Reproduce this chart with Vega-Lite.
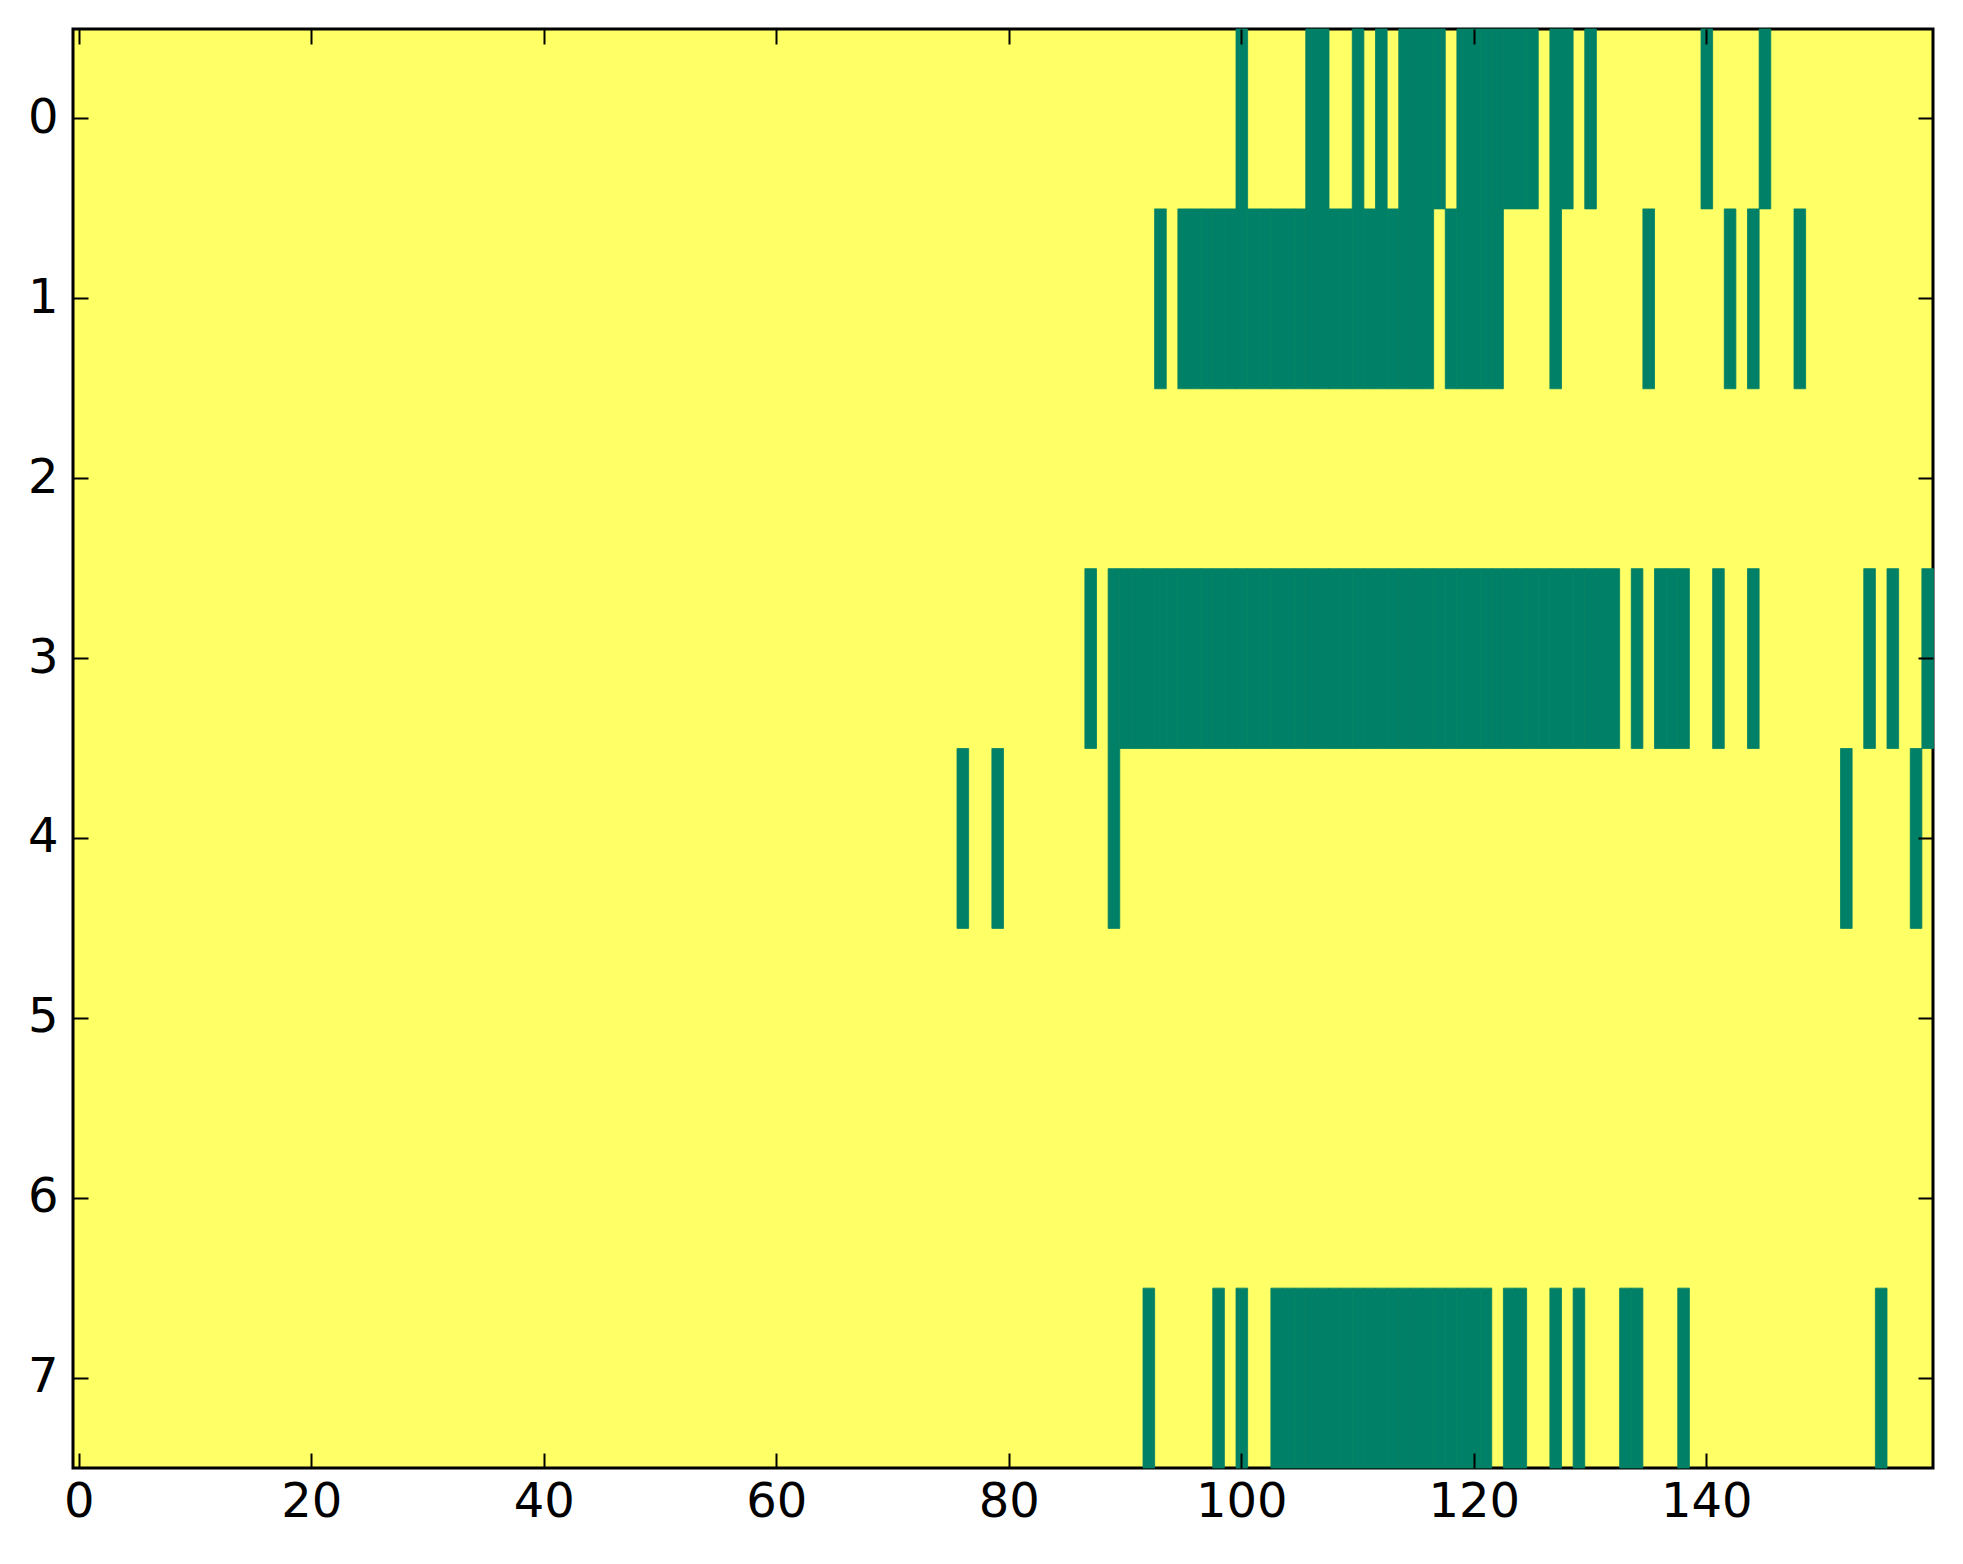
{
  "$schema": "https://vega.github.io/schema/vega-lite/v6.json",
  "description": "Binary matrix shown as an image (8 rows x 160 columns)",
  "width": 1860,
  "height": 1439,
  "autosize": {"type": "none"},
  "padding": {"left": 73, "top": 29, "right": 30, "bottom": 96},
  "background": "white",
  "data": {
    "values": [
      {"row": 0, "col": 100}, {"row": 0, "col": 106}, {"row": 0, "col": 107}, {"row": 0, "col": 110},
      {"row": 0, "col": 112}, {"row": 0, "col": 114}, {"row": 0, "col": 115}, {"row": 0, "col": 116},
      {"row": 0, "col": 117}, {"row": 0, "col": 119}, {"row": 0, "col": 120}, {"row": 0, "col": 121},
      {"row": 0, "col": 122}, {"row": 0, "col": 123}, {"row": 0, "col": 124}, {"row": 0, "col": 125},
      {"row": 0, "col": 127}, {"row": 0, "col": 128}, {"row": 0, "col": 130}, {"row": 0, "col": 140},
      {"row": 0, "col": 145},
      {"row": 1, "col": 93}, {"row": 1, "col": 95}, {"row": 1, "col": 96}, {"row": 1, "col": 97},
      {"row": 1, "col": 98}, {"row": 1, "col": 99}, {"row": 1, "col": 100}, {"row": 1, "col": 101},
      {"row": 1, "col": 102}, {"row": 1, "col": 103}, {"row": 1, "col": 104}, {"row": 1, "col": 105},
      {"row": 1, "col": 106}, {"row": 1, "col": 107}, {"row": 1, "col": 108}, {"row": 1, "col": 109},
      {"row": 1, "col": 110}, {"row": 1, "col": 111}, {"row": 1, "col": 112}, {"row": 1, "col": 113},
      {"row": 1, "col": 114}, {"row": 1, "col": 115}, {"row": 1, "col": 116}, {"row": 1, "col": 118},
      {"row": 1, "col": 119}, {"row": 1, "col": 120}, {"row": 1, "col": 121}, {"row": 1, "col": 122},
      {"row": 1, "col": 127}, {"row": 1, "col": 135}, {"row": 1, "col": 142}, {"row": 1, "col": 144},
      {"row": 1, "col": 148},
      {"row": 3, "col": 87}, {"row": 3, "col": 89}, {"row": 3, "col": 90}, {"row": 3, "col": 91},
      {"row": 3, "col": 92}, {"row": 3, "col": 93}, {"row": 3, "col": 94}, {"row": 3, "col": 95},
      {"row": 3, "col": 96}, {"row": 3, "col": 97}, {"row": 3, "col": 98}, {"row": 3, "col": 99},
      {"row": 3, "col": 100}, {"row": 3, "col": 101}, {"row": 3, "col": 102}, {"row": 3, "col": 103},
      {"row": 3, "col": 104}, {"row": 3, "col": 105}, {"row": 3, "col": 106}, {"row": 3, "col": 107},
      {"row": 3, "col": 108}, {"row": 3, "col": 109}, {"row": 3, "col": 110}, {"row": 3, "col": 111},
      {"row": 3, "col": 112}, {"row": 3, "col": 113}, {"row": 3, "col": 114}, {"row": 3, "col": 115},
      {"row": 3, "col": 116}, {"row": 3, "col": 117}, {"row": 3, "col": 118}, {"row": 3, "col": 119},
      {"row": 3, "col": 120}, {"row": 3, "col": 121}, {"row": 3, "col": 122}, {"row": 3, "col": 123},
      {"row": 3, "col": 124}, {"row": 3, "col": 125}, {"row": 3, "col": 126}, {"row": 3, "col": 127},
      {"row": 3, "col": 128}, {"row": 3, "col": 129}, {"row": 3, "col": 130}, {"row": 3, "col": 131},
      {"row": 3, "col": 132}, {"row": 3, "col": 134}, {"row": 3, "col": 136}, {"row": 3, "col": 137},
      {"row": 3, "col": 138}, {"row": 3, "col": 141}, {"row": 3, "col": 144}, {"row": 3, "col": 154},
      {"row": 3, "col": 156}, {"row": 3, "col": 159},
      {"row": 4, "col": 76}, {"row": 4, "col": 79}, {"row": 4, "col": 89}, {"row": 4, "col": 152},
      {"row": 4, "col": 158},
      {"row": 7, "col": 92}, {"row": 7, "col": 98}, {"row": 7, "col": 100}, {"row": 7, "col": 103},
      {"row": 7, "col": 104}, {"row": 7, "col": 105}, {"row": 7, "col": 106}, {"row": 7, "col": 107},
      {"row": 7, "col": 108}, {"row": 7, "col": 109}, {"row": 7, "col": 110}, {"row": 7, "col": 111},
      {"row": 7, "col": 112}, {"row": 7, "col": 113}, {"row": 7, "col": 114}, {"row": 7, "col": 115},
      {"row": 7, "col": 116}, {"row": 7, "col": 117}, {"row": 7, "col": 118}, {"row": 7, "col": 119},
      {"row": 7, "col": 120}, {"row": 7, "col": 121}, {"row": 7, "col": 123}, {"row": 7, "col": 124},
      {"row": 7, "col": 127}, {"row": 7, "col": 129}, {"row": 7, "col": 133}, {"row": 7, "col": 134},
      {"row": 7, "col": 138}, {"row": 7, "col": 155}
    ]
  },
  "layer": [
    {
      "mark": {"type": "rect", "color": "#008066", "stroke": "#008066", "strokeWidth": 0.8},
      "encoding": {
        "x": {
          "field": "col",
          "type": "quantitative",
          "bin": {"step": 1, "extent": [-0.5, 159.5], "nice": false},
          "scale": {"domain": [-0.5, 159.5], "nice": false, "zero": false},
          "axis": {"orient": "bottom", "values": [0, 20, 40, 60, 80, 100, 120, 140], "format": "d", "labelPadding": 25},
          "title": null
        },
        "y": {
          "field": "row",
          "type": "ordinal",
          "scale": {"domain": [0, 1, 2, 3, 4, 5, 6, 7], "paddingInner": 0, "paddingOuter": 0},
          "axis": {"orient": "left", "labelPadding": 30},
          "title": null
        }
      }
    },
    {
      "mark": {"type": "rect", "opacity": 0},
      "encoding": {
        "x": {
          "field": "col",
          "type": "quantitative",
          "bin": {"step": 1, "extent": [-0.5, 159.5], "nice": false},
          "scale": {"domain": [-0.5, 159.5], "nice": false, "zero": false},
          "axis": {"orient": "top", "values": [0, 20, 40, 60, 80, 100, 120, 140], "labels": false},
          "title": null
        },
        "y": {
          "field": "row",
          "type": "ordinal",
          "scale": {"domain": [0, 1, 2, 3, 4, 5, 6, 7], "paddingInner": 0, "paddingOuter": 0},
          "axis": {"orient": "right", "labels": false},
          "title": null
        }
      }
    }
  ],
  "resolve": {"axis": {"x": "independent", "y": "independent"}},
  "config": {
    "view": {"fill": "#FFFF66", "stroke": "black", "strokeWidth": 3},
    "axis": {
      "domain": false,
      "grid": false,
      "tickColor": "black",
      "tickSize": -15,
      "tickWidth": 2,
      "labelFont": "DejaVu Sans",
      "labelFontSize": 48,
      "labelColor": "black",
      "labelAngle": 0,
      "labelFlush": false,
      "labelOverlap": false
    }
  }
}
